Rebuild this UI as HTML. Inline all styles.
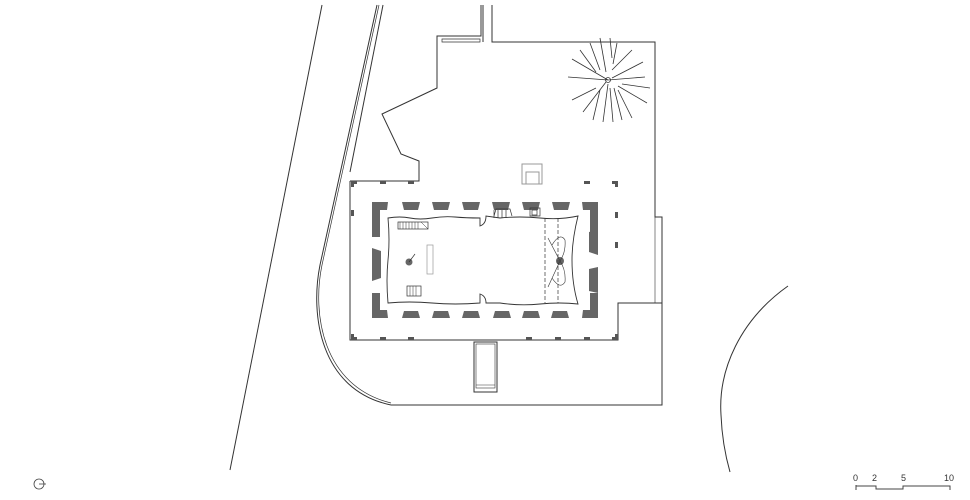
<!DOCTYPE html>
<html><head><meta charset="utf-8"><style>
html,body{margin:0;padding:0;background:#fff;}
svg{display:block;}
text{font-family:"Liberation Sans",sans-serif;font-size:9px;fill:#333;}
</style></head><body>
<svg width="970" height="500" viewBox="0 0 970 500" xmlns="http://www.w3.org/2000/svg">
<g fill="none" stroke="#333" stroke-width="1">
<line x1="322" y1="5" x2="230" y2="470"/>
<path d="M377,5 L320,265 C310,315 320,390 391,405"/>
<path d="M379,5 L322,265 C312,313 322,386 391,403" stroke-width="0.7"/>
<line x1="383" y1="5" x2="350" y2="172"/>
<path d="M350,181 L350,340 L618,340 L618,303 L662,303 L662,217 L655,217 L655,42 L492,42 L492,5"/>
<path d="M655,217 L655,303" stroke-width="0.6"/>
<path d="M662,303 L662,405 L391,405" />
<path d="M350,181 L419,181 L419,161 L401,154 L382,114 L437,88 L437,36 L481,36 L481,5"/>
<path d="M442,39 L480,39 L480,42 L442,42 Z" stroke-width="0.7"/>
<line x1="483" y1="5" x2="483" y2="42"/>
<rect x="474" y="342" width="23" height="50"/>
<rect x="476" y="344" width="19" height="44" stroke-width="0.6"/>
<line x1="476" y1="385" x2="495" y2="385" stroke-width="0.6"/>
<rect x="522" y="164" width="20" height="20" stroke="#999"/>
<rect x="526" y="172" width="13" height="12" stroke="#999"/>
<path d="M788,286 C740,320 718,370 721,415 C722,440 726,458 730,472"/>
<g stroke-width="0.8">
<circle cx="608" cy="80" r="2.5"/>
<path d="M608,80 L572,59 M596,72 L580,50 M600,70 L590,43 M606,72 L600,38 M612,58 L610,38 M613,64 L617,43 M612,70 L632,50 M612,78 L643,62 M608,80 L645,77 M622,84 L650,88 M618,86 L647,103 M618,90 L632,118 M614,88 L622,120 M610,88 L613,122 M608,84 L603,122 M600,90 L593,120 M606,82 L583,112 M596,88 L572,100 M608,80 L568,77"/>
</g>
</g>
<g fill="#555">
<rect x="351" y="181" width="6" height="3"/><rect x="351" y="181" width="3" height="6"/>
<rect x="380" y="181" width="6" height="3"/><rect x="408" y="181" width="6" height="3"/>
<rect x="584" y="181" width="6" height="3"/><rect x="612" y="181" width="6" height="3"/><rect x="615" y="181" width="3" height="6"/>
<rect x="351" y="337" width="6" height="3"/><rect x="351" y="334" width="3" height="6"/>
<rect x="380" y="337" width="6" height="3"/><rect x="408" y="337" width="6" height="3"/>
<rect x="526" y="337" width="6" height="3"/><rect x="555" y="337" width="6" height="3"/><rect x="584" y="337" width="6" height="3"/><rect x="612" y="337" width="6" height="3"/><rect x="615" y="334" width="3" height="6"/>
<rect x="351" y="210" width="3" height="6"/><rect x="615" y="212" width="3" height="6"/><rect x="615" y="242" width="3" height="6"/>
</g>
<g fill="#666">
<path d="M372,202 L388,202 L387,210 L380,210 L380,237 L372,237 Z"/>
<path d="M582,202 L598,202 L598,237 L590,237 L590,210 L583,210 Z"/>
<path d="M372,318 L388,318 L387,310 L380,310 L380,293 L372,293 Z"/>
<path d="M582,318 L598,318 L598,293 L590,293 L590,310 L583,310 Z"/>
<path d="M402,202 L420,202 L418,210 L404,210 Z"/>
<path d="M432,202 L450,202 L448,210 L434,210 Z"/>
<path d="M462,202 L480,202 L478,210 L464,210 Z"/>
<path d="M492,202 L510,202 L508,210 L494,210 Z"/>
<path d="M522,202 L540,202 L538,210 L524,210 Z"/>
<path d="M552,202 L570,202 L568,210 L554,210 Z"/>
<path d="M404,311 L418,311 L420,318 L402,318 Z"/>
<path d="M434,311 L448,311 L450,318 L432,318 Z"/>
<path d="M464,311 L478,311 L480,318 L462,318 Z"/>
<path d="M495,311 L509,311 L511,318 L493,318 Z"/>
<path d="M524,311 L538,311 L540,318 L522,318 Z"/>
<path d="M553,311 L567,311 L569,318 L551,318 Z"/>
<path d="M372,248 L381,251 L381,278 L372,281 Z"/>
<path d="M589,232 L598,230 L598,255 L589,252 Z"/>
<path d="M589,269 L598,267 L598,293 L589,291 Z"/>
<circle cx="409" cy="262" r="3.5"/>
<circle cx="560" cy="261" r="4"/>
</g>
<g fill="none" stroke="#333" stroke-width="0.9">
<path d="M388,218 Q400,216 410,218 T432,218 T455,217 T480,218 L480,226 Q486,224 486,216 L500,218 Q520,216 540,218 T578,216 Q572,240 572,260 Q572,284 578,304 Q560,302 540,304 T500,303 L486,303 Q486,296 480,294 L480,303 Q455,305 432,303 T388,303 Q386,280 388,260 T388,218 Z"/>
<path d="M545,218 L545,303 M558,218 L558,303" stroke-dasharray="4,2" stroke-width="0.7"/>
<path d="M548,238 L560,261 L548,287 M552,245 Q560,232 565,240 Q566,252 560,261 Q566,270 565,282 Q560,290 552,278" stroke-width="0.6"/>
<rect x="398" y="222" width="30" height="7" stroke-width="0.7"/>
<path d="M400,222 V229 M403,222 V229 M406,222 V229 M409,222 V229 M412,222 V229 M415,222 V229 M418,222 V229 M421,222 L428,229" stroke-width="0.5"/>
<rect x="407" y="286" width="14" height="10" stroke-width="0.7"/>
<path d="M410,286 V296 M413,286 V296 M416,286 V296" stroke-width="0.5"/>
<rect x="427" y="245" width="6" height="29" stroke="#999" stroke-width="0.7"/>
<line x1="409" y1="262" x2="415" y2="254" stroke-width="0.7"/>
<path d="M494,216 L496,209 L510,209 L512,216 M494,210 V218 M498,210 V218 M502,210 V218 M506,210 V218 M530,208 L540,208 L540,216 L530,216 Z M532,210 L537,210 L537,215 L532,215 Z" stroke-width="0.7"/>
</g>
<circle cx="39" cy="484" r="5" fill="none" stroke="#444" stroke-width="0.8"/>
<line x1="39" y1="484" x2="46" y2="484" stroke="#444" stroke-width="0.8"/>
<text x="853" y="481">0</text><text x="872" y="481">2</text><text x="901" y="481">5</text><text x="944" y="481">10</text>
<path d="M856,490 V485 M856,486 H876 V489 H903 V486 H950 V490" fill="none" stroke="#444" stroke-width="1"/>
</svg>
</body></html>
